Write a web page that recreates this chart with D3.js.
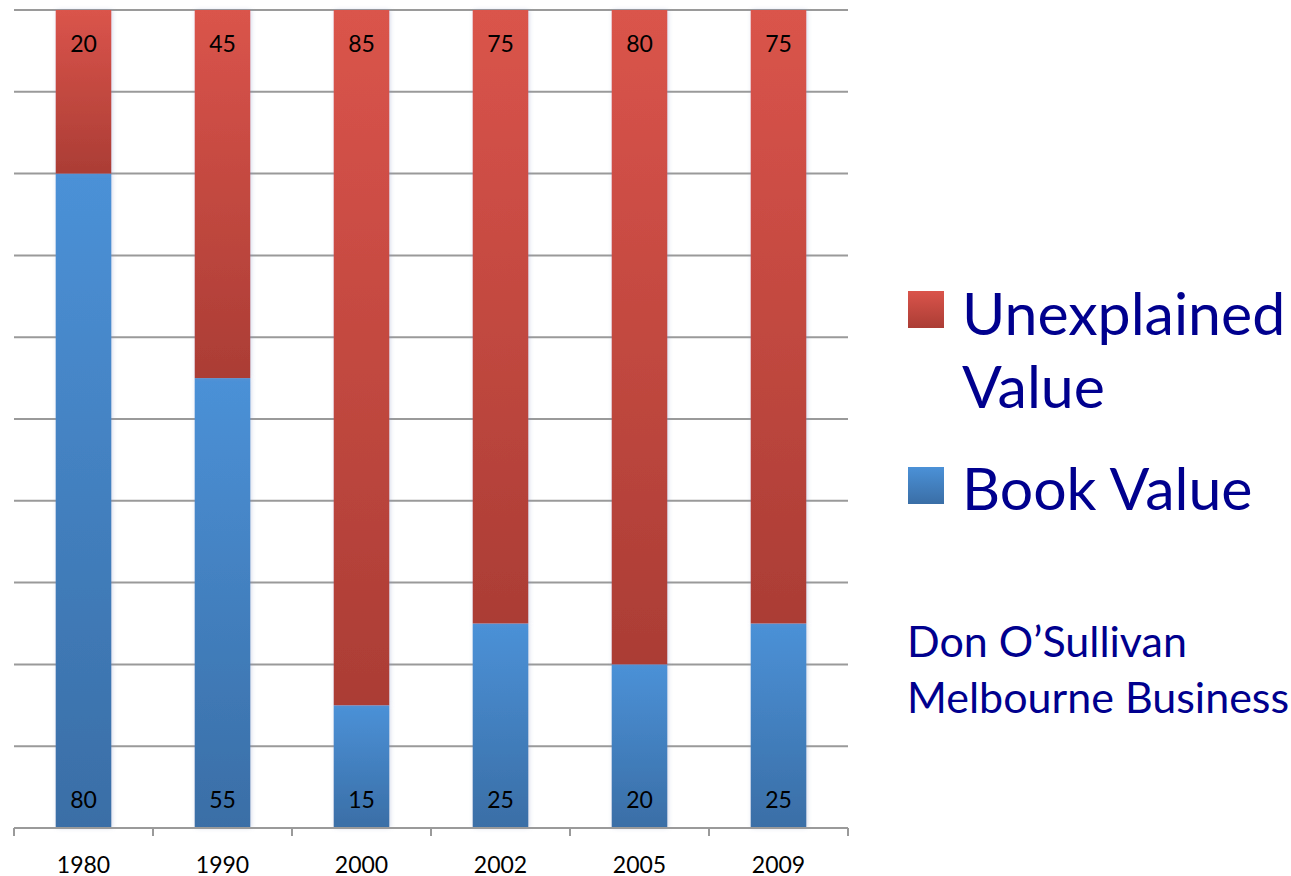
<!DOCTYPE html>
<html>
<head>
<meta charset="utf-8">
<script src="https://cdn.jsdelivr.net/npm/d3@7"></script>
<style>
  body { margin: 0; background: #fff; }
  svg { display: block; font-family: Lato, "Open Sans", sans-serif; }
</style>
</head>
<body>
<svg id="chart" width="1291" height="876"></svg>
<script>
var years = ["1980", "1990", "2000", "2002", "2005", "2009"];
var bookValue = [80, 55, 15, 25, 20, 25];
var unexplainedValue = [20, 45, 85, 75, 80, 75];
var legendLabels = [["Unexplained", "Value"], ["Book Value"]];
var creditLines = ["Don O\u2019Sullivan", "Melbourne Business School"];

var svg = d3.select("#chart");
var plotLeft = 14, plotRight = 848, plotTop = 10, plotBottom = 828;

var x = d3.scaleBand().domain(years).range([plotLeft, plotRight]).paddingInner(0.6).paddingOuter(0.3);
var y = d3.scaleLinear().domain([0, 100]).range([plotBottom, plotTop]);

var defs = svg.append("defs");
var grad = function (id, c1, c2) {
    var g = defs.append("linearGradient").attr("id", id)
        .attr("x1", 0).attr("y1", 0).attr("x2", 0).attr("y2", 1);
    g.append("stop").attr("offset", "0%").attr("stop-color", c1);
    g.append("stop").attr("offset", "100%").attr("stop-color", c2);
};
grad("gRed", "#da544b", "#ab3d35");
grad("gBlue", "#4b91d7", "#3a6ea6");
defs.append("filter").attr("id", "shadow").attr("x", "-20%").attr("y", "-5%").attr("width", "140%").attr("height", "110%")
    .append("feDropShadow").attr("dx", 1).attr("dy", 0).attr("stdDeviation", 2)
    .attr("flood-color", "#8090c0").attr("flood-opacity", 0.35);

// gridlines
svg.append("g")
    .selectAll("line")
    .data(d3.range(10, 101, 10))
    .join("line")
    .attr("x1", plotLeft).attr("x2", plotRight)
    .attr("y1", function (d) { return y(d); })
    .attr("y2", function (d) { return y(d); })
    .attr("stroke", "#9a9a9a").attr("stroke-width", 2);

// bars
var stacked = years.map(function (yr, i) {
    return { year: yr, book: bookValue[i], unexpl: unexplainedValue[i] };
});

var bars = svg.append("g").selectAll("g").data(stacked).join("g");
bars.append("rect")
    .attr("x", function (d) { return x(d.year); })
    .attr("width", x.bandwidth())
    .attr("y", function (d) { return y(d.book); })
    .attr("height", function (d) { return plotBottom - y(d.book); })
    .attr("fill", "url(#gBlue)")
    .attr("filter", "url(#shadow)");
bars.append("rect")
    .attr("x", function (d) { return x(d.year); })
    .attr("width", x.bandwidth())
    .attr("y", function (d) { return y(d.book + d.unexpl); })
    .attr("height", function (d) { return y(d.book) - y(d.book + d.unexpl); })
    .attr("fill", "url(#gRed)")
    .attr("filter", "url(#shadow)");

// value labels
bars.append("text")
    .attr("x", function (d) { return x(d.year) + x.bandwidth() / 2; })
    .attr("y", function (d) { return y(d.book + d.unexpl) + 42; })
    .attr("text-anchor", "middle").attr("font-size", 23).attr("fill", "#000")
    .text(function (d) { return d.unexpl; });
bars.append("text")
    .attr("x", function (d) { return x(d.year) + x.bandwidth() / 2; })
    .attr("y", plotBottom - 20)
    .attr("text-anchor", "middle").attr("font-size", 23).attr("fill", "#000")
    .text(function (d) { return d.book; });

// x axis
var axis = svg.append("g");
axis.append("line").attr("x1", plotLeft).attr("x2", plotRight).attr("y1", plotBottom).attr("y2", plotBottom)
    .attr("stroke", "#9a9a9a").attr("stroke-width", 2);
var edges = years.map(function (yr) { return x(yr) - x.step() * 0.3; }).concat([plotRight]);
axis.selectAll("line.tick").data(edges).join("line").attr("class", "tick")
    .attr("x1", function (d) { return d; }).attr("x2", function (d) { return d; })
    .attr("y1", plotBottom).attr("y2", plotBottom + 8)
    .attr("stroke", "#9a9a9a").attr("stroke-width", 2);
axis.selectAll("text").data(years).join("text")
    .attr("x", function (d) { return x(d) + x.bandwidth() / 2; })
    .attr("y", 873)
    .attr("text-anchor", "middle").attr("font-size", 23).attr("fill", "#000")
    .text(function (d) { return d; });

// legend
var navy = "#00008e";
var legend = svg.append("g");
legend.append("rect").attr("x", 908).attr("y", 291).attr("width", 36).attr("height", 37).attr("fill", "url(#gRed)");
legend.append("rect").attr("x", 908).attr("y", 467).attr("width", 36).attr("height", 37).attr("fill", "url(#gBlue)");
legend.append("text").attr("x", 962).attr("y", 335).attr("font-size", 59).attr("fill", navy).text(legendLabels[0][0]);
legend.append("text").attr("x", 962).attr("y", 408).attr("font-size", 59).attr("fill", navy).text(legendLabels[0][1]);
legend.append("text").attr("x", 962).attr("y", 510).attr("font-size", 59).attr("fill", navy).text(legendLabels[1][0]);

svg.append("g").selectAll("text").data(creditLines).join("text")
    .attr("x", 907)
    .attr("y", function (d, i) { return 657 + i * 56; })
    .attr("font-size", 43).attr("fill", navy)
    .text(function (d) { return d; });
</script>
</body>
</html>
